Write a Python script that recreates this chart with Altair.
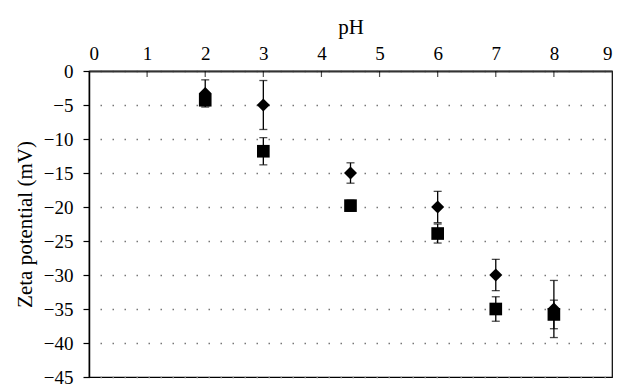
import altair as alt
import pandas as pd

# ---- data ----
ph = [2, 3, 4.5, 6, 7, 8]
diamond_zeta = [-3.3, -5.0, -15.0, -20.0, -30.0, -35.0]
diamond_err = [2.0, 3.6, 1.5, 2.3, 2.3, 4.2]
square_zeta = [-4.3, -11.8, -19.8, -23.9, -35.0, -35.8]
square_err = [0.5, 2.0, 0.8, 1.4, 1.8, 2.1]
x_ticks = [0, 1, 2, 3, 4, 5, 6, 7, 8, 9]
y_ticks = [0, -5, -10, -15, -20, -25, -30, -35, -40, -45]

FONT = "Liberation Serif"

rows = []
for name, vals, errs in (("diamond", diamond_zeta, diamond_err),
                         ("square", square_zeta, square_err)):
    for p, v, e in zip(ph, vals, errs):
        rows.append({"series": name, "pH": p, "zeta": v,
                     "lo": v - e, "hi": v + e})
df = pd.DataFrame(rows)

caps = pd.concat([
    df[["series", "pH", "lo"]].rename(columns={"lo": "cap"}),
    df[["series", "pH", "hi"]].rename(columns={"hi": "cap"}),
])

inner_ticks = pd.DataFrame({"pH": [t for t in x_ticks if 0 < t < 9]})

x_scale = alt.Scale(domain=[0, 9], nice=False, zero=False)
y_scale = alt.Scale(domain=[-45, 0], nice=False, zero=False)

x_axis = alt.Axis(orient="top", title="pH", values=x_ticks, tickCount=20,
                  grid=False, format="d", labelOverlap=False,
                  tickSize=0, labelPadding=8, titlePadding=7,
                  domainColor="#333333", domainWidth=2)
y_axis = alt.Axis(title="Zeta potential (mV)", values=y_ticks, tickCount=20,
                  grid=True, format="d", labelOverlap=False,
                  labelExpr="datum.value < 0 ? '\u2212' + abs(datum.value) : datum.label",
                  gridDash=[1.5, 10.5], gridDashOffset=1, gridColor="#777777",
                  gridWidth=1.5, tickSize=6, tickColor="black", tickWidth=1.2,
                  labelPadding=10, titlePadding=8,
                  domainColor="black", domainWidth=1.5)

X = lambda f: alt.X(f, scale=x_scale, axis=x_axis)
Y = lambda f: alt.Y(f, scale=y_scale, axis=y_axis)

bars = alt.Chart(df).mark_rule(color="black", strokeWidth=1.3).encode(
    x=X("pH:Q"), y=Y("lo:Q"), y2="hi:Q",
)

cap_layer = alt.Chart(caps).mark_tick(
    color="black", orient="horizontal", size=8, thickness=1.3
).encode(x=X("pH:Q"), y=Y("cap:Q"))

diamonds = alt.Chart(df[df.series == "diamond"]).mark_point(
    shape="diamond", filled=True, color="black", opacity=1, size=170
).encode(x=X("pH:Q"), y=Y("zeta:Q"))

squares = alt.Chart(df[df.series == "square"]).mark_point(
    shape="square", filled=True, color="black", opacity=1, size=160
).encode(x=X("pH:Q"), y=Y("zeta:Q"))

tick_layer = alt.Chart(inner_ticks).mark_tick(
    color="black", orient="vertical", size=6, thickness=1.2
).encode(x=X("pH:Q"), y=alt.value(3))

chart = alt.layer(bars, cap_layer, squares, diamonds, tick_layer).properties(
    width=523, height=306,
    autosize=alt.AutoSizeParams(type="none"),
    padding={"left": 89, "top": 71, "right": 5, "bottom": 7},
    background="white",
).configure_view(
    stroke="black", strokeWidth=1.2
).configure_axis(
    labelFont=FONT, titleFont=FONT, labelFontSize=19, titleFontSize=21,
    labelColor="black", titleColor="black", titleFontWeight="normal",
)

chart.save("out.html", embed_options={"renderer": "svg", "actions": False})
